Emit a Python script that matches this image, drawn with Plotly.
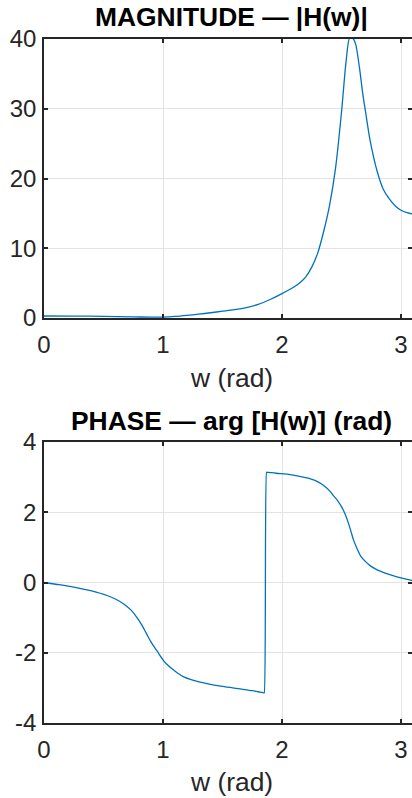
import plotly.graph_objects as go

# Magnitude |H(w)|
w_mag = [0.0, 0.25, 0.5, 0.75, 0.9, 1.0, 1.1, 1.2, 1.3, 1.4, 1.5, 1.6, 1.7, 1.8, 1.9,
         2.0, 2.1, 2.15, 2.2, 2.25, 2.3, 2.35, 2.4, 2.45, 2.5, 2.54, 2.57, 2.6, 2.62,
         2.65, 2.68, 2.7, 2.74, 2.8, 2.85, 2.9, 2.95, 3.0, 3.05, 3.1, 3.1416]
mag = [0.29, 0.28, 0.24, 0.17, 0.12, 0.13, 0.22, 0.37, 0.55, 0.75, 0.97, 1.2, 1.5, 1.95, 2.65,
       3.5, 4.45, 5.05, 5.9, 7.3, 9.3, 12.4, 16.2, 21.5, 29.5, 37.0, 40.2, 40.0, 39.2,
       36.0, 32.0, 29.8, 25.5, 21.0, 18.5, 17.1, 16.1, 15.45, 15.1, 14.9, 14.8]

# Phase arg[H(w)] (rad)
w_ph = [0.0, 0.1, 0.25, 0.4, 0.53, 0.6, 0.67, 0.73, 0.78, 0.82, 0.86, 0.9, 0.95, 1.0,
        1.03, 1.1, 1.17, 1.25, 1.37, 1.5, 1.65, 1.75, 1.8, 1.849, 1.851, 1.87, 1.872, 1.95,
        2.07, 2.15, 2.24, 2.31, 2.35, 2.4, 2.43, 2.47, 2.5, 2.53, 2.56, 2.58, 2.6, 2.63,
        2.66, 2.7, 2.74, 2.8, 2.85, 2.92, 3.0, 3.09, 3.1416]
phase = [0.0, -0.05, -0.13, -0.24, -0.37, -0.47, -0.61, -0.78, -0.99, -1.2, -1.45, -1.7,
         -1.95, -2.2, -2.32, -2.52, -2.68, -2.78, -2.88, -2.96, -3.03, -3.08, -3.11, -3.14,
         -3.14, 3.14, 3.14, 3.11, 3.07, 3.02, 2.95, 2.85, 2.76, 2.61, 2.48, 2.32, 2.16, 1.95,
         1.67, 1.45, 1.22, 0.97, 0.76, 0.6, 0.48, 0.36, 0.29, 0.21, 0.13, 0.06, 0.03]

x_ticks = [0, 1, 2, 3]
mag_ticks = [0, 10, 20, 30, 40]
ph_ticks = [-4, -2, 0, 2, 4]
ph_tick_text = ["-4", "-2", "0", "2", "4"]

W, H = 412, 798
L = 44
FONT = "Liberation Sans, Arial, Helvetica, sans-serif"
AX = "#262626"
GRID = "#e3e3e3"
BLUE = "#0072BD"
TICK_SIZE = 24
LABEL_SIZE = 26.4

def py(p):
    return 1 - p / H

fig = go.Figure()
fig.add_trace(go.Scatter(x=w_mag, y=mag, mode="lines",
                         line=dict(color=BLUE, width=1.3, shape="spline", smoothing=0.8),
                         xaxis="x", yaxis="y", showlegend=False))
fig.add_trace(go.Scatter(x=w_ph, y=phase, mode="lines",
                         line=dict(color=BLUE, width=1.3, shape="spline", smoothing=0.8),
                         xaxis="x2", yaxis="y2", showlegend=False))

xr = [0, (W - L) / 119.0]
common_x = dict(range=xr, tickvals=x_ticks, showgrid=True, gridcolor=GRID, gridwidth=1,
                showline=True, linecolor=AX, linewidth=1.5, mirror="ticks", automargin=False,
                ticks="inside", ticklen=4, tickwidth=1.5, tickcolor=AX, zeroline=False,
                tickfont=dict(family=FONT, size=TICK_SIZE, color=AX), ticklabelstandoff=4)
common_y = dict(showgrid=True, gridcolor=GRID, gridwidth=1, automargin=False,
                showline=True, linecolor=AX, linewidth=1.5, mirror="ticks",
                ticks="inside", ticklen=4, tickwidth=1.5, tickcolor=AX, zeroline=False,
                tickfont=dict(family=FONT, size=TICK_SIZE, color=AX), ticklabelstandoff=1)

fig.update_layout(
    template="none",
    width=W, height=H, margin=dict(l=L, r=0, t=0, b=0, pad=0, autoexpand=False),
    paper_bgcolor="white", plot_bgcolor="white",
    xaxis=dict(domain=[0, 1], anchor="y", **common_x),
    yaxis=dict(domain=[py(318), py(39)], range=[0, 40], tickvals=mag_ticks, anchor="x", **common_y),
    xaxis2=dict(domain=[0, 1], anchor="y2", **common_x),
    yaxis2=dict(domain=[py(723), py(442)], range=[-4, 4], tickvals=ph_ticks, ticktext=ph_tick_text,
                anchor="x2", **common_y),
)

cx = (231 - L) / (W - L)
anns = [
    dict(text="<b>MAGNITUDE — |H(w)|</b>", x=cx, y=py(17), color="#000000"),
    dict(text="<b>PHASE — arg [H(w)] (rad)</b>", x=cx, y=py(421), color="#000000"),
    dict(text="w (rad)", x=cx, y=py(378), color=AX),
    dict(text="w (rad)", x=cx, y=py(782), color=AX),
]
for a in anns:
    fig.add_annotation(text=a["text"], xref="paper", yref="paper", x=a["x"], y=a["y"],
                       xanchor="center", yanchor="middle", showarrow=False,
                       font=dict(family=FONT, size=LABEL_SIZE, color=a["color"]))

fig.write_html("out.html", config={"displayModeBar": False},
               post_script="document.body.style.margin='0';document.body.style.overflow='hidden';")
